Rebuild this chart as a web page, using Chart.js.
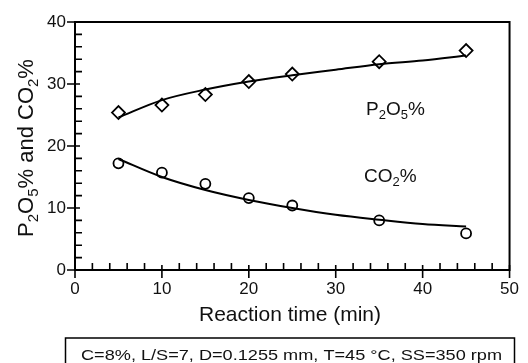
<!DOCTYPE html>
<html>
<head>
<meta charset="utf-8">
<script src="https://cdn.jsdelivr.net/npm/chart.js@4/dist/chart.umd.min.js"></script>
<style>
  html, body { margin: 0; padding: 0; background: #fff; }
  #wrap { width: 528px; height: 363px; }
</style>
</head>
<body>
<div id="wrap"><canvas id="chart" width="528" height="363"></canvas></div>
<script>
// measured points
const times = [5, 10, 15, 20, 25, 35, 45];
const p2o5 = [25.4, 26.6, 28.3, 30.4, 31.6, 33.6, 35.4];
const co2 = [17.2, 15.7, 13.9, 11.6, 10.4, 8.0, 5.9];

// fitted curves
const fitTimes = [5, 10, 15, 20, 25, 30, 35, 40, 45];
const p2o5Fit = [24.6, 27.4, 29.1, 30.4, 31.4, 32.3, 33.2, 33.8, 34.6];
const co2Fit = [17.9, 15.0, 12.9, 11.3, 10.0, 8.9, 8.1, 7.4, 7.0];

const xTicks = [0, 10, 20, 30, 40, 50];
const yTicks = [0, 10, 20, 30, 40];

const FONT = "'Liberation Sans', Arial, sans-serif";

function pts(xs, ys) {
    return xs.map((x, i) => ({ x: x, y: ys[i] }));
}

// text with subscripts, segments like [["P"], ["2", true], ...]
function drawRich(ctx, segs, size, x, y, align) {
    const subSize = Math.round(size * 0.68);
    let w = 0;
    segs.forEach(s => {
        ctx.font = (s[1] ? subSize : size) + "px " + FONT;
        w += ctx.measureText(s[0]).width;
    });
    let cx = align === "center" ? x - w / 2 : x;
    segs.forEach(s => {
        ctx.font = (s[1] ? subSize : size) + "px " + FONT;
        ctx.fillText(s[0], cx, s[1] ? y + size * 0.22 : y);
        cx += ctx.measureText(s[0]).width;
    });
}

const decor = {
    id: "decor",
    afterDraw(chart) {
        const ctx = chart.ctx;
        const a = chart.chartArea;
        const xs = chart.scales.x, ys = chart.scales.y;
        ctx.save();
        ctx.strokeStyle = "#000";
        ctx.fillStyle = "#111";
        ctx.lineWidth = 2;
        ctx.strokeRect(a.left, a.top, a.right - a.left, a.bottom - a.top);

        ctx.lineWidth = 1.6;
        ctx.beginPath();
        for (let v = 0; v <= 50; v += 2) {
            const px = xs.getPixelForValue(v);
            if (v % 10 === 0) {
                ctx.moveTo(px, a.bottom + 8);
                ctx.lineTo(px, a.bottom - 5);
            } else {
                ctx.moveTo(px, a.bottom);
                ctx.lineTo(px, a.bottom - 7);
            }
        }
        for (let v = 0; v <= 40; v += 2) {
            const py = ys.getPixelForValue(v);
            if (v % 10 === 0) {
                ctx.moveTo(a.left - 8, py);
                ctx.lineTo(a.left + 5, py);
            } else {
                ctx.moveTo(a.left, py);
                ctx.lineTo(a.left + 7, py);
            }
        }
        ctx.stroke();

        ctx.textBaseline = "alphabetic";
        ctx.textAlign = "left";
        // series labels
        drawRich(ctx, [["P"], ["2", true], ["O"], ["5", true], ["%"]], 19, 366, 115, "left");
        drawRich(ctx, [["CO"], ["2", true], ["%"]], 19, 364, 182, "left");

        // x title
        ctx.font = "21px " + FONT;
        ctx.textAlign = "center";
        ctx.fillText("Reaction time (min)", 290, 321);

        // y title
        ctx.save();
        ctx.translate(33, 148);
        ctx.rotate(-Math.PI / 2);
        ctx.textAlign = "left";
        drawRich(ctx, [["P"], ["2", true], ["O"], ["5", true], ["% and CO"], ["2", true], ["%"]], 22, 0, 0, "center");
        ctx.restore();

        // conditions box
        ctx.lineWidth = 1.5;
        ctx.strokeRect(65.5, 338, 449, 40);
        const note = "C=8%, L/S=7, D=0.1255 mm, T=45 \u00B0C, SS=350 rpm";
        ctx.font = "15.5px " + FONT;
        const sx = 421 / ctx.measureText(note).width;
        ctx.save();
        ctx.translate(81, 360);
        ctx.scale(sx, 1);
        ctx.textAlign = "left";
        ctx.fillText(note, 0, 0);
        ctx.restore();
        ctx.restore();
    }
};

new Chart(document.getElementById("chart").getContext("2d"), {
    type: "scatter",
    data: {
        datasets: [
            {
                label: "P2O5 fit",
                data: pts(fitTimes, p2o5Fit),
                showLine: true,
                borderColor: "#000",
                borderWidth: 2,
                pointRadius: 0,
                tension: 0.4,
                cubicInterpolationMode: "monotone"
            },
            {
                label: "CO2 fit",
                data: pts(fitTimes, co2Fit),
                showLine: true,
                borderColor: "#000",
                borderWidth: 2,
                pointRadius: 0,
                tension: 0.4,
                cubicInterpolationMode: "monotone"
            },
            {
                label: "P2O5%",
                data: pts(times, p2o5),
                pointStyle: "rectRot",
                pointRadius: 6.5,
                borderColor: "#000",
                borderWidth: 1.8,
                backgroundColor: "#fff"
            },
            {
                label: "CO2%",
                data: pts(times, co2),
                pointStyle: "circle",
                pointRadius: 5,
                borderColor: "#000",
                borderWidth: 1.8,
                backgroundColor: "#fff"
            }
        ]
    },
    options: {
        responsive: false,
        animation: false,
        layout: { padding: { left: 0, right: 18, top: 22, bottom: 0 } },
        plugins: { legend: { display: false }, tooltip: { enabled: false } },
        scales: {
            x: {
                type: "linear",
                min: 0,
                max: 50,
                afterFit(s) { s.height = 93; },
                afterBuildTicks(s) { s.ticks = xTicks.map(v => ({ value: v })); },
                grid: { display: false, drawTicks: false },
                border: { display: false },
                ticks: { color: "#111", font: { family: FONT, size: 17 }, padding: 9 }
            },
            y: {
                type: "linear",
                min: 0,
                max: 40,
                afterFit(s) { s.width = 75; },
                afterBuildTicks(s) { s.ticks = yTicks.map(v => ({ value: v })); },
                grid: { display: false, drawTicks: false },
                border: { display: false },
                ticks: { color: "#111", font: { family: FONT, size: 17 }, padding: 9 }
            }
        }
    },
    plugins: [decor]
});
</script>
</body>
</html>
